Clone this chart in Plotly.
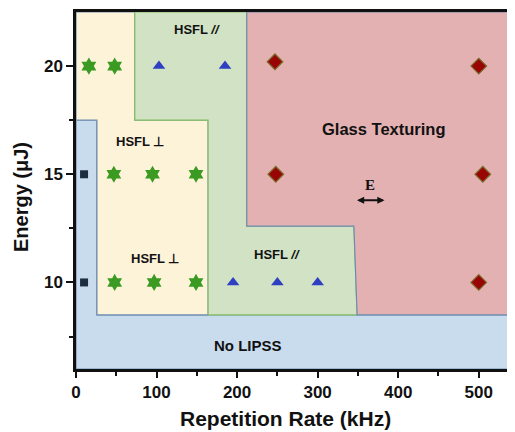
import plotly.graph_objects as go

# ---- data ----
sq_x = [10, 10]
sq_y = [15, 10]
star_x = [16, 48, 47, 95, 149, 48, 97, 149]
star_y = [20, 20, 15, 15, 15, 10, 10, 10]
tri_x = [103, 185, 195, 250, 300]
tri_y = [20, 20, 10, 10, 10]
dia_x = [247, 500, 248, 505, 500]
dia_y = [20.2, 20.0, 15, 15, 10]

# region boundaries (kHz, uJ)
blue_x = [0, 0, 26, 26, 545, 545, 0]
blue_y = [6, 17.5, 17.5, 8.5, 8.5, 6, 6]
yel_x = [0, 73, 73, 164, 164, 26, 26, 0, 0]
yel_y = [22.5, 22.5, 17.5, 17.5, 8.5, 8.5, 17.5, 17.5, 22.5]
grn_x = [73, 212, 212, 345, 349, 164, 164, 73, 73]
grn_y = [22.5, 22.5, 12.6, 12.6, 8.5, 8.5, 17.5, 17.5, 22.5]
red_x = [212, 545, 545, 349, 345, 212, 212]
red_y = [22.5, 22.5, 8.5, 8.5, 12.6, 12.6, 22.5]

fig = go.Figure()

def region(x, y, fill, line):
    fig.add_trace(go.Scatter(x=x, y=y, fill='toself', fillcolor=fill, mode='lines',
                             line=dict(color=line, width=1.2), hoverinfo='skip', showlegend=False))

region(blue_x, blue_y, '#c9dcee', '#6d8db0')
region(yel_x, yel_y, '#fdf3d9', '#6d8db0')
region(grn_x, grn_y, '#d1e3c4', '#86bd63')
region(red_x, red_y, '#e4b1b2', '#6d8db0')

fig.add_trace(go.Scatter(x=sq_x, y=sq_y, mode='markers', showlegend=False,
                         marker=dict(symbol='square', size=8, color='#1d2d40')))
fig.add_trace(go.Scatter(x=star_x, y=star_y, mode='markers', showlegend=False,
                         marker=dict(symbol='hexagram', size=13, color='#3a9a22')))
fig.add_trace(go.Scatter(x=tri_x, y=tri_y, mode='markers', showlegend=False,
                         marker=dict(symbol='triangle-up', size=11, color='#2f3fc2')))
fig.add_trace(go.Scatter(x=dia_x, y=dia_y, mode='markers', showlegend=False,
                         marker=dict(symbol='diamond', size=12, color='#990505',
                                     line=dict(color='#7a6a2a', width=1.2))))

font_family = 'Liberation Sans, Arial, sans-serif'
texts = [
    (150, 21.7, '<b>HSFL <i>//</i></b>', 13),
    (80, 16.5, '<b>HSFL ⊥</b>', 13),
    (98, 11.1, '<b>HSFL ⊥</b>', 13),
    (250, 11.3, '<b>HSFL <i>//</i></b>', 13),
    (382, 17.1, '<b>Glass Texturing</b>', 16.5),
    (213, 7.1, '<b>No LIPSS</b>', 15),
]
for x, y, t, s in texts:
    fig.add_annotation(x=x, y=y, text=t, showarrow=False,
                       font=dict(family=font_family, size=s, color='#111'))

fig.add_annotation(x=365, y=14.5, text='<b>E</b>', showarrow=False,
                   font=dict(family='Liberation Serif, serif', size=15, color='#111'))
fig.add_annotation(x=383, y=13.8, ax=347, ay=13.8, axref='x', ayref='y', xref='x', yref='y',
                   text='', showarrow=True, arrowhead=2, arrowside='end+start',
                   arrowsize=0.8, arrowwidth=1.8, arrowcolor='#111')

# axis titles
fig.add_annotation(x=0.478, y=-0.138, xref='paper', yref='paper', showarrow=False,
                   text='<b>Repetition Rate (kHz)</b>', xanchor='center', yanchor='middle',
                   font=dict(family=font_family, size=21, color='#111'))
fig.add_annotation(x=-0.125, y=0.482, xref='paper', yref='paper', showarrow=False,
                   text='<b>Energy (μJ)</b>', textangle=-90, xanchor='center', yanchor='middle',
                   font=dict(family=font_family, size=20, color='#111'))

tickfont = dict(family=font_family, size=17, color='#111')
fig.update_layout(
    width=507, height=424,
    margin=dict(l=68, r=0, t=4, b=63),
    paper_bgcolor='white', plot_bgcolor='white',
    xaxis=dict(range=[0, 545], tickvals=[0, 100, 200, 300, 400, 500],
               ticktext=['<b>%d</b>' % v for v in [0, 100, 200, 300, 400, 500]],
               ticks='outside', ticklen=6, tickwidth=2, tickcolor='#111',
               showline=True, linecolor='#111', linewidth=2.5, mirror=True,
               showgrid=False, zeroline=False, tickfont=tickfont, automargin=False,
               minor=dict(tickvals=[50, 150, 250, 350, 450], ticks='outside', ticklen=4,
                          tickwidth=2, tickcolor='#111', showgrid=False)),
    yaxis=dict(range=[6, 22.5], tickvals=[10, 15, 20],
               ticktext=['<b>10</b>', '<b>15</b>', '<b>20</b>'],
               ticks='outside', ticklen=7, tickwidth=2, tickcolor='#111',
               showline=True, linecolor='#111', linewidth=2.5,
               showgrid=False, zeroline=False, tickfont=tickfont, automargin=False,
               minor=dict(tickvals=[7.5, 12.5, 17.5], ticks='outside', ticklen=4,
                          tickwidth=2, tickcolor='#111', showgrid=False)),
)

fig.write_html('out.html')
